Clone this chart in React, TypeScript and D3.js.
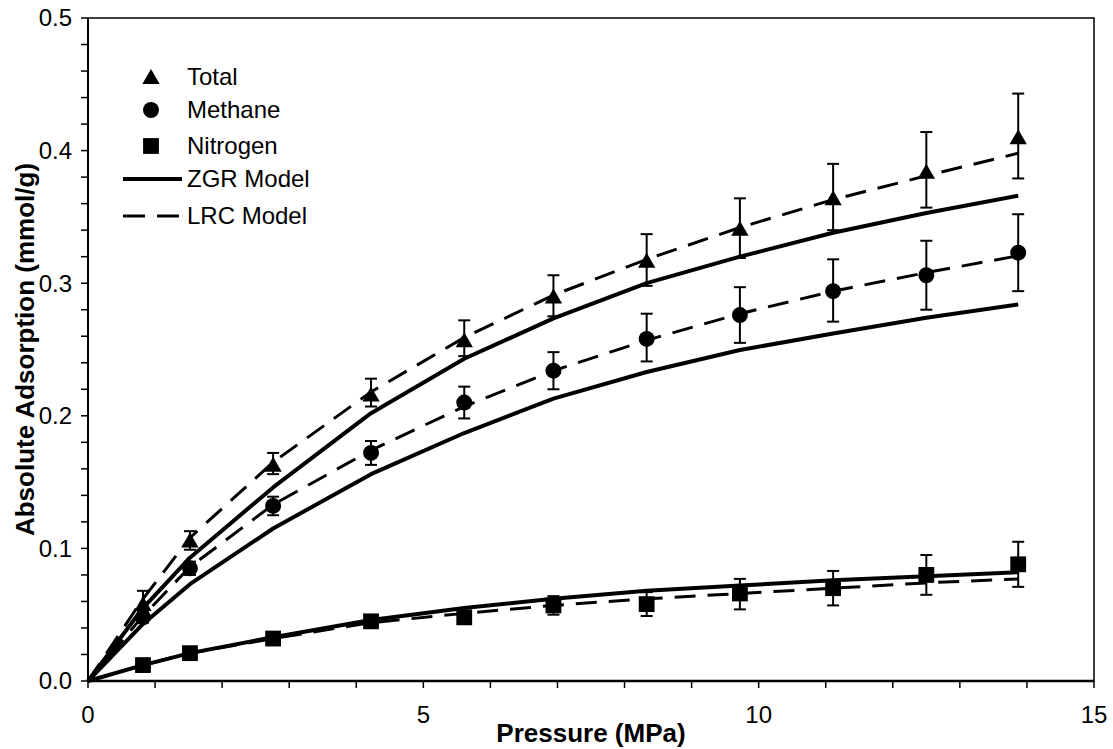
import React from 'react';
import * as d3 from 'd3';

const pressure = [0.82, 1.52, 2.76, 4.22, 5.61, 6.94, 8.33, 9.72, 11.11, 12.5, 13.87];

const totalVals = [0.058, 0.106, 0.163, 0.216, 0.257, 0.290, 0.317, 0.341, 0.364, 0.384, 0.410];
const totalHi = [0.068, 0.113, 0.172, 0.228, 0.272, 0.306, 0.337, 0.364, 0.390, 0.414, 0.443];
const totalLo = [0.050, 0.099, 0.156, 0.207, 0.245, 0.275, 0.298, 0.319, 0.340, 0.357, 0.379];

const methaneVals = [0.048, 0.085, 0.132, 0.172, 0.210, 0.234, 0.258, 0.276, 0.294, 0.306, 0.323];
const methaneHi = [0.052, 0.090, 0.139, 0.181, 0.222, 0.248, 0.277, 0.297, 0.318, 0.332, 0.352];
const methaneLo = [0.044, 0.080, 0.125, 0.163, 0.198, 0.220, 0.241, 0.255, 0.271, 0.280, 0.294];

const nitrogenVals = [0.012, 0.021, 0.032, 0.045, 0.048, 0.057, 0.058, 0.066, 0.070, 0.080, 0.088];
const nitrogenHi = [0.013, 0.022, 0.034, 0.047, 0.052, 0.064, 0.067, 0.077, 0.083, 0.095, 0.105];
const nitrogenLo = [0.011, 0.020, 0.030, 0.043, 0.044, 0.050, 0.049, 0.054, 0.057, 0.065, 0.071];

const modelPressure = [0, 0.82, 1.52, 2.76, 4.22, 5.61, 6.94, 8.33, 9.72, 11.11, 12.5, 13.87];
const zgrTotal = [0, 0.055, 0.093, 0.146, 0.202, 0.243, 0.2735, 0.300, 0.320, 0.338, 0.353, 0.366];
const lrcTotal = [0, 0.062, 0.108, 0.165, 0.218, 0.259, 0.291, 0.318, 0.342, 0.363, 0.381, 0.398];
const zgrMethane = [0, 0.043, 0.073, 0.115, 0.156, 0.187, 0.213, 0.233, 0.2496, 0.262, 0.274, 0.284];
const lrcMethane = [0, 0.049, 0.086, 0.133, 0.174, 0.207, 0.234, 0.257, 0.277, 0.294, 0.308, 0.3207];
const zgrNitrogen = [0, 0.012, 0.021, 0.033, 0.046, 0.055, 0.062, 0.068, 0.072, 0.076, 0.079, 0.082];
const lrcNitrogen = [0, 0.012, 0.021, 0.032, 0.044, 0.051, 0.057, 0.062, 0.066, 0.070, 0.074, 0.077];

const xMajorTicks = [0, 5, 10, 15];
const yMajorTicks = [0, 0.1, 0.2, 0.3, 0.4, 0.5];
const legendLabels = ['Total', 'Methane', 'Nitrogen', 'ZGR Model', 'LRC Model'];

const W = 1113;
const H = 749;
const L = 88, R = 1094, T = 18, B = 681;
const FONT = '"Liberation Sans", Arial, sans-serif';

export default function App() {
  const x = d3.scaleLinear().domain([0, 15]).range([L, R]);
  const y = d3.scaleLinear().domain([0, 0.5]).range([B, T]);
  const line = (ys: number[]) =>
    d3.line<number>().x((_, i) => x(modelPressure[i])).y((d) => y(d))(ys) || '';

  const tri = d3.symbol().type(d3.symbolTriangle).size(130)() || '';
  const circ = d3.symbol().type(d3.symbolCircle).size(200)() || '';
  const sq = d3.symbol().type(d3.symbolSquare).size(250)() || '';

  const xMinor = d3.range(0, 16, 1);
  const yMinor = d3.range(0, 0.5001, 0.02);

  const series = [
    { vals: totalVals, hi: totalHi, lo: totalLo, path: tri, dy: 2 },
    { vals: methaneVals, hi: methaneHi, lo: methaneLo, path: circ, dy: 0 },
    { vals: nitrogenVals, hi: nitrogenHi, lo: nitrogenLo, path: sq, dy: 0 },
  ];

  const dash = '21 12';

  return (
    <svg width={W} height={H} style={{ position: 'absolute', left: 0, top: 0, background: '#fff' }} fontFamily={FONT}>
      <rect x={0} y={0} width={W} height={H} fill="#fff" />
      <g fill="none" stroke="#000" strokeLinejoin="round">
        <path d={line(zgrTotal)} strokeWidth={4} />
        <path d={line(zgrMethane)} strokeWidth={4} />
        <path d={line(zgrNitrogen)} strokeWidth={4} />
        <path d={line(lrcTotal)} strokeWidth={3} strokeDasharray={dash} />
        <path d={line(lrcMethane)} strokeWidth={3} strokeDasharray={dash} />
        <path d={line(lrcNitrogen)} strokeWidth={3} strokeDasharray={dash} />
      </g>
      {series.map((s, si) => (
        <g key={si}>
          {pressure.map((p, i) => (
            <g key={i} stroke="#000" strokeWidth={2}>
              <line x1={x(p)} x2={x(p)} y1={y(s.hi[i])} y2={y(s.lo[i])} />
              <line x1={x(p) - 6} x2={x(p) + 6} y1={y(s.hi[i])} y2={y(s.hi[i])} />
              <line x1={x(p) - 6} x2={x(p) + 6} y1={y(s.lo[i])} y2={y(s.lo[i])} />
            </g>
          ))}
          {pressure.map((p, i) => (
            <path key={'m' + i} d={s.path} transform={`translate(${x(p)},${y(s.vals[i]) + s.dy})`} fill="#000" />
          ))}
        </g>
      ))}
      <rect x={L} y={T} width={R - L} height={B - T} fill="none" stroke="#000" strokeWidth={1.5} />
      <line x1={L} x2={R} y1={B} y2={B} stroke="#000" strokeWidth={2.5} />
      <line x1={L} x2={L} y1={T} y2={B} stroke="#000" strokeWidth={2} />
      {xMinor.map((t) => (
        <line key={'xt' + t} x1={x(t)} x2={x(t)} y1={B} y2={B + 7} stroke="#000" strokeWidth={1.5} />
      ))}
      {xMajorTicks.map((t) => (
        <text key={'xl' + t} x={x(t)} y={723} textAnchor="middle" fontSize={24}>{t}</text>
      ))}
      {yMinor.map((t, i) => (
        <line key={'yt' + i} x1={L - 7} x2={L} y1={y(t)} y2={y(t)} stroke="#000" strokeWidth={1.5} />
      ))}
      {yMajorTicks.map((t) => (
        <text key={'yl' + t} x={72} y={y(t)} dy="0.35em" textAnchor="end" fontSize={24}>{t.toFixed(1)}</text>
      ))}
      <text x={(L + R) / 2} y={742} textAnchor="middle" fontSize={26} fontWeight="bold">Pressure (MPa)</text>
      <text transform={`translate(34,${(T + B) / 2}) rotate(-90)`} textAnchor="middle" fontSize={26} fontWeight="bold">Absolute Adsorption (mmol/g)</text>
      <g>
        <path d={tri} transform={`translate(151,79)`} fill="#000" />
        <path d={circ} transform={`translate(151,110)`} fill="#000" />
        <path d={sq} transform={`translate(151,146)`} fill="#000" />
        <line x1={123} x2={182} y1={179} y2={179} stroke="#000" strokeWidth={4} />
        <line x1={123} x2={182} y1={216} y2={216} stroke="#000" strokeWidth={3} strokeDasharray="22 12" />
        {legendLabels.map((l, i) => (
          <text key={l} x={187} y={[77, 110, 146, 179, 216][i]} dy="0.35em" fontSize={24}>{l}</text>
        ))}
      </g>
    </svg>
  );
}
